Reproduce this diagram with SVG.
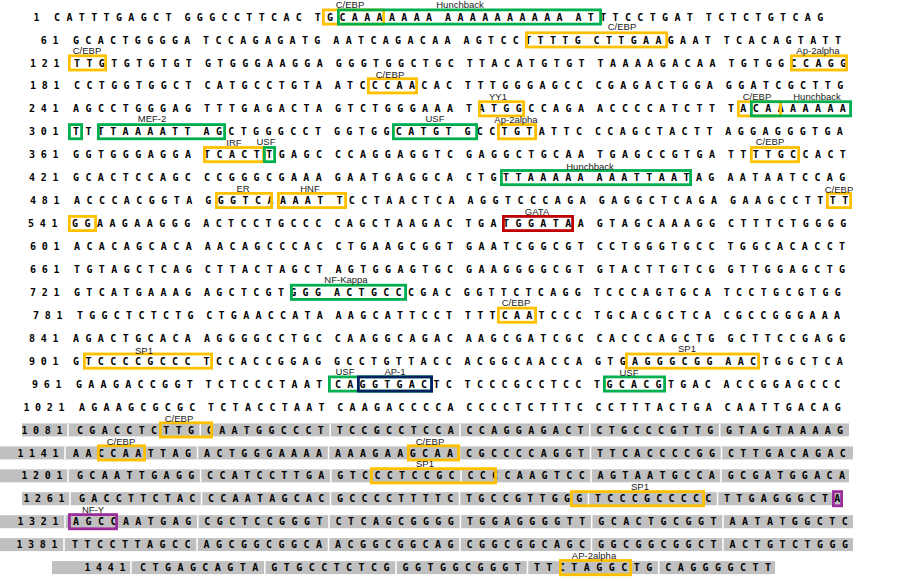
<svg xmlns="http://www.w3.org/2000/svg" width="897" height="582" viewBox="0 0 897 582">
<style>
.seq{font-family:"DejaVu Sans Mono","Liberation Mono",monospace;font-weight:bold;font-size:10px;fill:#000}
.num{letter-spacing:5.68px}
.lbl{font-family:"Liberation Sans",Arial,sans-serif;font-size:9.5px;fill:#1a1a1a;text-anchor:middle}
.bx{fill:none;stroke-width:2.8}
.o{stroke:#FFC000}.g{stroke:#00B050}.r{stroke:#C00000}.n{stroke:#002060}.p{stroke:#9B2D9B}
.bar{fill:#C0C0C0}
.sep{stroke:#fff;stroke-width:1.5;fill:none}
</style>
<rect width="897" height="582" fill="#fff"/>
<g id="sequence">
<g id="row-1"><text class="seq" y="20.6" style="letter-spacing:6.36px"><tspan class="num" x="33.5">1</tspan><tspan x="54.0">CATTTGAGCT</tspan><tspan x="184.4">GGGCCTTCAC</tspan><tspan x="314.7">TGCAAAAAAA</tspan><tspan x="445.1">AAAAAAAAAA</tspan><tspan x="575.4">ATTTCCTGAT</tspan><tspan x="705.8">TCTCTGTCAG</tspan></text></g>
<g id="row-61"><text class="seq" y="43.5" style="letter-spacing:6.34px"><tspan class="num" x="40.8">61</tspan><tspan x="73.0">GCACTGGGGA</tspan><tspan x="203.1">TCCAGAGATG</tspan><tspan x="333.3">AATCAGACAA</tspan><tspan x="463.4">AGTCCTTTTG</tspan><tspan x="593.6">CTTGAAGAAT</tspan><tspan x="723.7">TCACAGTATT</tspan></text></g>
<g id="row-121"><text class="seq" y="66.5" style="letter-spacing:6.41px"><tspan class="num" x="30.1">121</tspan><tspan x="74.0">TTGTGTGTGT</tspan><tspan x="204.9">GTGGGAAGGA</tspan><tspan x="335.8">GGGTGGCTGC</tspan><tspan x="466.7">TTACATGTGT</tspan><tspan x="597.6">TAAAAGACAA</tspan><tspan x="728.4">TGTGGCCAGG</tspan></text></g>
<g id="row-181"><text class="seq" y="89.4" style="letter-spacing:6.36px"><tspan class="num" x="30.1">181</tspan><tspan x="74.0">CCTGGTGGCT</tspan><tspan x="204.4">CATGCCTGTA</tspan><tspan x="334.7">ATCCCAACAC</tspan><tspan x="465.1">TTTGGGAGCC</tspan><tspan x="595.4">CGAGACTGGA</tspan><tspan x="725.8">GGATCGCTTG</tspan></text></g>
<g id="row-241"><text class="seq" y="112.4" style="letter-spacing:6.42px"><tspan class="num" x="29.1">241</tspan><tspan x="73.0">AGCCTGGGAG</tspan><tspan x="204.0">TTTGAGACTA</tspan><tspan x="335.0">GTCTGGGAAA</tspan><tspan x="466.0">TATGGCCAGA</tspan><tspan x="597.0">ACCCCATCTT</tspan><tspan x="727.9">TACAAAAAAA</tspan></text></g>
<g id="row-301"><text class="seq" y="135.3" style="letter-spacing:6.37px"><tspan class="num" x="29.1">301</tspan><tspan x="73.0">TTTTAAAATT</tspan><tspan x="203.5">AGCTGGGCCT</tspan><tspan x="333.9">GGTGGCATGT</tspan><tspan x="464.4">GCCTGTATTC</tspan><tspan x="594.9">CCAGCTACTT</tspan><tspan x="725.3">AGGAGGGTGA</tspan></text></g>
<g id="row-361"><text class="seq" y="158.2" style="letter-spacing:6.42px"><tspan class="num" x="29.1">361</tspan><tspan x="73.0">GGTGGGAGGA</tspan><tspan x="204.0">TCACTTGAGC</tspan><tspan x="335.0">CCAGGAGGTC</tspan><tspan x="466.0">GAGGCTGCAA</tspan><tspan x="597.0">TGAGCCGTGA</tspan><tspan x="727.9">TTTTGCCACT</tspan></text></g>
<g id="row-421"><text class="seq" y="181.2" style="letter-spacing:6.41px"><tspan class="num" x="29.1">421</tspan><tspan x="73.0">GCACTCCAGC</tspan><tspan x="203.9">CCGGGCGAAA</tspan><tspan x="334.8">GAATGAGGCA</tspan><tspan x="465.7">CTGTTAAAAA</tspan><tspan x="596.5">AAATTAATAG</tspan><tspan x="727.4">AATAATCCAG</tspan></text></g>
<g id="row-481"><text class="seq" y="204.1" style="letter-spacing:6.44px"><tspan class="num" x="30.1">481</tspan><tspan x="74.0">ACCCACGGTA</tspan><tspan x="205.2">GGGTCAAAAT</tspan><tspan x="336.4">TCCTAACTCA</tspan><tspan x="467.6">AGGTCCCAGA</tspan><tspan x="598.8">GAGGCTCAGA</tspan><tspan x="730.0">GAAGCCTTTT</tspan></text></g>
<g id="row-541"><text class="seq" y="227.1" style="letter-spacing:6.44px"><tspan class="num" x="28.1">541</tspan><tspan x="72.0">GGAAGAAGGG</tspan><tspan x="203.2">ACTCCTGCCC</tspan><tspan x="334.4">CAGCTAAGAC</tspan><tspan x="465.6">TGATGGATAA</tspan><tspan x="596.8">GTAGCAAAGG</tspan><tspan x="728.0">CTTTCTGGGG</tspan></text></g>
<g id="row-601"><text class="seq" y="250.0" style="letter-spacing:6.39px"><tspan class="num" x="30.1">601</tspan><tspan x="74.0">ACACAGCACA</tspan><tspan x="204.7">AACAGCCCAC</tspan><tspan x="335.4">CTGAAGCGGT</tspan><tspan x="466.0">GAATCGGCGT</tspan><tspan x="596.7">CCTGGGTGCC</tspan><tspan x="727.4">TGGCACACCT</tspan></text></g>
<g id="row-661"><text class="seq" y="272.9" style="letter-spacing:6.39px"><tspan class="num" x="30.1">661</tspan><tspan x="74.0">TGTAGCTCAG</tspan><tspan x="204.7">CTTACTAGCT</tspan><tspan x="335.4">AGTGGAGTGC</tspan><tspan x="466.0">GAAGGGGCGT</tspan><tspan x="596.7">GTACTTGTCG</tspan><tspan x="727.4">GTTGGAGCTG</tspan></text></g>
<g id="row-721"><text class="seq" y="295.9" style="letter-spacing:6.32px"><tspan class="num" x="30.1">721</tspan><tspan x="74.0">GTCATGAAAG</tspan><tspan x="203.9">AGCTCGTGGG</tspan><tspan x="333.9">ACTGCCCGAC</tspan><tspan x="463.8">GGTTCTCAGG</tspan><tspan x="593.7">TCCCAGTGCA</tspan><tspan x="723.7">TCCTGCGTGG</tspan></text></g>
<g id="row-781"><text class="seq" y="318.8" style="letter-spacing:6.26px"><tspan class="num" x="33.1">781</tspan><tspan x="77.0">TGGCTCTCTG</tspan><tspan x="206.3">CTGAACCATA</tspan><tspan x="335.6">AAGCATTCCT</tspan><tspan x="464.9">TTTCAATCCC</tspan><tspan x="594.2">TGCACGCTCA</tspan><tspan x="723.5">CGCCGGGAAA</tspan></text></g>
<g id="row-841"><text class="seq" y="341.8" style="letter-spacing:6.41px"><tspan class="num" x="29.1">841</tspan><tspan x="73.0">AGACTGCACA</tspan><tspan x="203.9">AGGGGCCTGC</tspan><tspan x="334.8">CAAGGCAGAC</tspan><tspan x="465.7">AAGCGATCGC</tspan><tspan x="596.5">CACCCAGCTG</tspan><tspan x="727.4">GCTTCCGAGG</tspan></text></g>
<g id="row-901"><text class="seq" y="364.7" style="letter-spacing:6.37px"><tspan class="num" x="29.1">901</tspan><tspan x="73.0">GTCCCCGCCC</tspan><tspan x="203.5">TCCACCGGAG</tspan><tspan x="333.9">GCCTGTTACC</tspan><tspan x="464.4">ACGGCAACCA</tspan><tspan x="594.9">GTGAGGGCGG</tspan><tspan x="725.3">AACTGGCTCA</tspan></text></g>
<g id="row-961"><text class="seq" y="387.6" style="letter-spacing:6.28px"><tspan class="num" x="32.1">961</tspan><tspan x="76.0">GAAGACCGGT</tspan><tspan x="205.5">TCTCCCTAAT</tspan><tspan x="335.0">CAGGTGACTC</tspan><tspan x="464.6">TCCCGCCTCC</tspan><tspan x="594.1">TGCACGTGAC</tspan><tspan x="723.6">ACCGGAGCCC</tspan></text></g>
<g id="row-1021"><text class="seq" y="410.6" style="letter-spacing:6.24px"><tspan class="num" x="23.4">1021</tspan><tspan x="79.0">AGAAGCGCGC</tspan><tspan x="208.1">TCTACCTAAT</tspan><tspan x="337.2">CAAGACCCCA</tspan><tspan x="466.3">CCCCTCTTTC</tspan><tspan x="595.4">CCTTTACTGA</tspan><tspan x="724.5">CAATTGACAG</tspan></text></g>
<g id="row-1081"><rect class="bar" x="22" y="423.4" width="827" height="13"/><path class="sep" d="M68 423.4v13M200.3 423.4v13M330.2 423.4v13M460 423.4v13M589.8 423.4v13M719.7 423.4v13"/><text class="seq" y="433.5" style="letter-spacing:6.31px"><tspan class="num" x="21.4">1081</tspan><tspan x="77.0">CGACCTCTTG</tspan><tspan x="206.8">CAATGGCCCT</tspan><tspan x="336.7">TCCGCCTCCA</tspan><tspan x="466.5">CCAGGAGACT</tspan><tspan x="596.3">CTGCCCGTTG</tspan><tspan x="726.1">GTAGTAAAAG</tspan></text></g>
<g id="row-1141"><rect class="bar" x="0" y="446.4" width="853" height="13"/><path class="sep" d="M65 446.4v13M197.5 446.4v13M328.5 446.4v13M459.5 446.4v13M590.5 446.4v13M721.5 446.4v13"/><text class="seq" y="456.5" style="letter-spacing:6.42px"><tspan class="num" x="17.4">1141</tspan><tspan x="73.0">AACCAATTAG</tspan><tspan x="204.0">ACTGGGAAAA</tspan><tspan x="335.0">AAAGAAGCAA</tspan><tspan x="466.0">CGCCCCAGGT</tspan><tspan x="597.0">TTCACCCCGG</tspan><tspan x="727.9">CTTGACAGAC</tspan></text></g>
<g id="row-1201"><rect class="bar" x="0" y="469.3" width="849" height="13"/><path class="sep" d="M68 469.3v13M200.6 469.3v13M330.8 469.3v13M461 469.3v13M591 469.3v13M721 469.3v13"/><text class="seq" y="479.4" style="letter-spacing:6.34px"><tspan class="num" x="21.4">1201</tspan><tspan x="77.0">GCAATTGAGG</tspan><tspan x="207.1">CCATCCTTGA</tspan><tspan x="337.3">GTCCCTCCGC</tspan><tspan x="467.4">CCCCAAGTCC</tspan><tspan x="597.6">AGTAATGCCA</tspan><tspan x="727.7">GCGATGGACA</tspan></text></g>
<g id="row-1261"><rect class="bar" x="22" y="492.2" width="821" height="13"/><path class="sep" d="M70 492.2v13M201.5 492.2v13M330.5 492.2v13M459.5 492.2v13M588.5 492.2v13M717.5 492.2v13"/><text class="seq" y="502.3" style="letter-spacing:6.23px"><tspan class="num" x="23.4">1261</tspan><tspan x="79.0">GACCTTCTAC</tspan><tspan x="208.0">CCAATAGCAC</tspan><tspan x="337.0">GCCCCTTTTC</tspan><tspan x="466.0">TGCCGTTGGG</tspan><tspan x="595.0">TCCCGCCCCC</tspan><tspan x="723.9">TTGAGGGCTA</tspan></text></g>
<g id="row-1321"><rect class="bar" x="0" y="515.2" width="853" height="13"/><path class="sep" d="M65 515.2v13M197.8 515.2v13M329 515.2v13M460.4 515.2v13M591.7 515.2v13M723 515.2v13"/><text class="seq" y="525.3" style="letter-spacing:6.45px"><tspan class="num" x="17.4">1321</tspan><tspan x="73.0">AGCCAATGAG</tspan><tspan x="204.3">CGCTCCGGGT</tspan><tspan x="335.6">CTCAGCGGGG</tspan><tspan x="466.9">TGGAGGGGTT</tspan><tspan x="598.2">GCACTGCGGT</tspan><tspan x="729.5">AATATGGCTC</tspan></text></g>
<g id="row-1381"><rect class="bar" x="0" y="538.1" width="853" height="13"/><path class="sep" d="M64 538.1v13M197 538.1v13M328.5 538.1v13M460 538.1v13M591.5 538.1v13M723 538.1v13"/><text class="seq" y="548.2" style="letter-spacing:6.47px"><tspan class="num" x="16.4">1381</tspan><tspan x="72.0">TTCCTTAGCC</tspan><tspan x="203.5">AGCGGCGGCA</tspan><tspan x="335.0">ACGGCGGCAG</tspan><tspan x="466.6">CGGCGGCAGC</tspan><tspan x="598.1">GGCGGCGGCT</tspan><tspan x="729.6">ACTGTCTGGG</tspan></text></g>
<g id="row-1441"><rect class="bar" x="52" y="561.1" width="723" height="13"/><path class="sep" d="M131 561.1v13M264.8 561.1v13M396 561.1v13M527.5 561.1v13M658.7 561.1v13"/><text class="seq" y="571.2" style="letter-spacing:6.45px"><tspan class="num" x="84.4">1441</tspan><tspan x="140.0">CTGAGCAGTA</tspan><tspan x="271.3">GTGCCTCTCG</tspan><tspan x="402.6">GGTGGCGGGT</tspan><tspan x="533.9">TTCTAGGCTG</tspan><tspan x="665.2">CAGGGGCTT</tspan></text></g>
</g>
<g id="sites">
<g id="s1-cebp"><rect class="bx o" x="323.4" y="9.9" width="60.2" height="14.2"/><text class="lbl" x="350" y="7.5">C/EBP</text></g>
<g id="s1-hunchback"><rect class="bx g" x="338.4" y="9.9" width="262.2" height="14.2"/><text class="lbl" x="460" y="7.5">Hunchback</text></g>
<g id="s61-cebp"><rect class="bx o" x="526.4" y="32.8" width="140.2" height="14.2"/><text class="lbl" x="622" y="30">C/EBP</text></g>
<g id="s121-cebp"><rect class="bx o" x="69.4" y="55.8" width="36.2" height="14.2"/><text class="lbl" x="87" y="53.5">C/EBP</text></g>
<g id="s121-ap2"><rect class="bx o" x="791.4" y="55.8" width="55.2" height="14.2"/><text class="lbl" x="818" y="53.5">Ap-2alpha</text></g>
<g id="s181-cebp"><rect class="bx o" x="368.4" y="78.7" width="48.2" height="14.2"/><text class="lbl" x="390" y="77.5">C/EBP</text></g>
<g id="s241-yy1"><text class="lbl" x="498" y="100">YY1</text><rect class="bx o" x="479.4" y="101.7" width="44.2" height="14.2"/></g>
<g id="s241-cebp"><rect class="bx o" x="738.4" y="101.7" width="42.2" height="14.2"/><text class="lbl" x="757" y="99.5">C/EBP</text></g>
<g id="s241-hunchback"><rect class="bx g" x="751.4" y="101.7" width="99.2" height="14.2"/><text class="lbl" x="817" y="99.5">Hunchback</text></g>
<g id="s301-t"><rect class="bx g" x="69.4" y="124.6" width="12.2" height="14.2"/></g>
<g id="s301-mef2"><rect class="bx g" x="98.4" y="124.6" width="126.2" height="14.2"/><text class="lbl" x="152" y="121.5">MEF-2</text></g>
<g id="s301-usf"><rect class="bx g" x="393.4" y="124.6" width="83.2" height="14.2"/><text class="lbl" x="435" y="121.5">USF</text></g>
<g id="s301-ap2"><rect class="bx o" x="498.4" y="124.6" width="37.2" height="14.2"/><text class="lbl" x="516" y="122.5">Ap-2alpha</text></g>
<g id="s361-irf"><rect class="bx o" x="204.4" y="147.5" width="59.2" height="14.2"/><text class="lbl" x="234" y="145.5">IRF</text></g>
<g id="s361-usf"><rect class="bx g" x="264.4" y="147.5" width="10.2" height="14.2"/><text class="lbl" x="266" y="144.5">USF</text></g>
<g id="s361-cebp"><rect class="bx o" x="751.4" y="147.5" width="47.2" height="14.2"/><text class="lbl" x="770" y="144.5">C/EBP</text></g>
<g id="s421-hunchback"><rect class="bx g" x="501.4" y="170.5" width="189.2" height="14.2"/><text class="lbl" x="590" y="169.5">Hunchback</text></g>
<g id="s481-er"><rect class="bx o" x="216.4" y="193.4" width="55.2" height="14.2"/><text class="lbl" x="243" y="191.5">ER</text></g>
<g id="s481-hnf"><rect class="bx o" x="278.4" y="193.4" width="67.2" height="14.2"/><text class="lbl" x="310" y="191.5">HNF</text></g>
<g id="s481-cebp"><rect class="bx o" x="827.4" y="193.4" width="23.2" height="14.2"/><rect class="bx o" x="69.4" y="216.4" width="26.2" height="14.2"/><text class="lbl" x="839" y="192.5">C/EBP</text></g>
<g id="s541-gata"><rect class="bx r" x="503.4" y="216.4" width="69.2" height="14.2"/><text class="lbl" x="537" y="214.5">GATA</text></g>
<g id="s721-nfkappa"><rect class="bx g" x="291.4" y="285.2" width="114.2" height="14.2"/><text class="lbl" x="346" y="283">NF-Kappa</text></g>
<g id="s781-cebp"><rect class="bx o" x="498.4" y="308.1" width="37.2" height="14.2"/><text class="lbl" x="516" y="306">C/EBP</text></g>
<g id="s901-sp1a"><rect class="bx o" x="84.4" y="354.0" width="127.2" height="14.2"/><text class="lbl" x="144" y="353.5">SP1</text></g>
<g id="s901-sp1b"><rect class="bx o" x="626.4" y="354.0" width="132.2" height="14.2"/><text class="lbl" x="687" y="352">SP1</text></g>
<g id="s961-usf"><rect class="bx g" x="329.4" y="376.9" width="102.2" height="14.2"/><text class="lbl" x="345" y="374.5">USF</text></g>
<g id="s961-ap1"><rect class="bx n" x="358.4" y="376.9" width="73.2" height="14.2"/><text class="lbl" x="395" y="374.5">AP-1</text></g>
<g id="s961-usf2"><rect class="bx g" x="604.4" y="376.9" width="60.2" height="14.2"/><text class="lbl" x="629" y="376">USF</text></g>
<g id="s1081-cebp"><rect class="bx o" x="160.4" y="422.8" width="51.2" height="14.2"/><text class="lbl" x="179" y="421.5">C/EBP</text></g>
<g id="s1141-cebp"><rect class="bx o" x="98.4" y="445.8" width="46.2" height="14.2"/><text class="lbl" x="121" y="444.5">C/EBP</text></g>
<g id="s1141-cebp2"><rect class="bx o" x="408.4" y="445.8" width="50.2" height="14.2"/><text class="lbl" x="430" y="444.5">C/EBP</text></g>
<g id="s1201-sp1"><rect class="bx o" x="371.4" y="468.7" width="124.2" height="14.2"/><text class="lbl" x="425" y="467">SP1</text></g>
<g id="s1261-sp1"><rect class="bx o" x="571.4" y="491.6" width="132.2" height="14.2"/><text class="lbl" x="640" y="490">SP1</text></g>
<g id="s1261-nfy"><rect class="bx p" x="833.4" y="491.6" width="8.2" height="14.2"/><rect class="bx p" x="69.4" y="514.6" width="47.2" height="14.2"/><text class="lbl" x="93" y="512.5">NF-Y</text></g>
<g id="s1441-ap2"><rect class="bx o" x="560.4" y="560.5" width="70.2" height="14.2"/><text class="lbl" x="594" y="558.5">AP-2alpha</text></g>
</g>
<g id="connectors"/>
</svg>
